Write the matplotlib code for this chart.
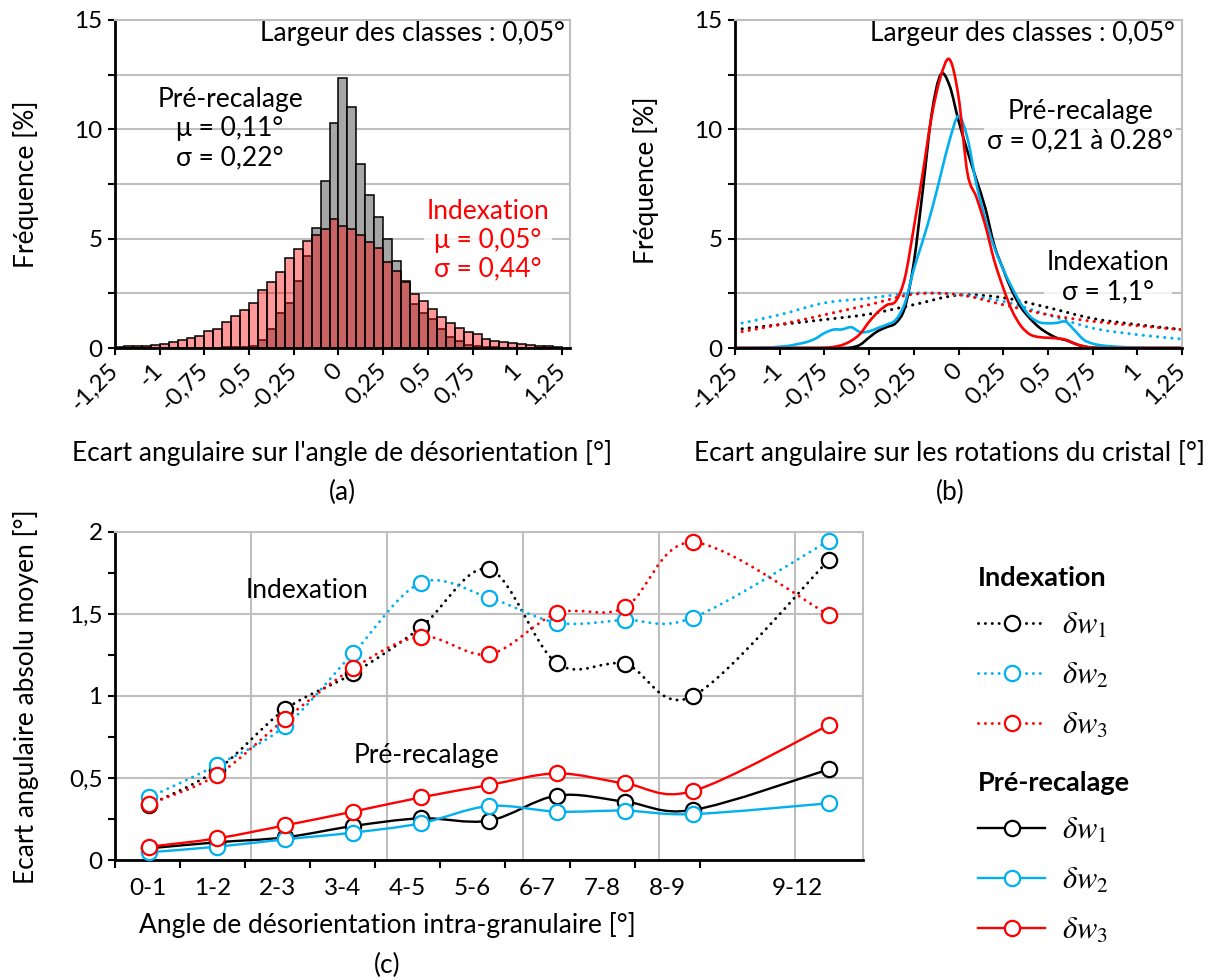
import numpy as np
import matplotlib
matplotlib.use('Agg')
import matplotlib.pyplot as plt
from matplotlib.path import Path
from matplotlib.patches import PathPatch
from matplotlib.lines import Line2D
from matplotlib.ticker import MultipleLocator

plt.rcParams['font.family'] = ['Lato', 'DejaVu Sans']
plt.rcParams['mathtext.fontset'] = 'stix'

# ---------------- données ----------------
# (a) histogrammes, classes de 0,05° entre -1,25 et 1,25
bin_width = 0.05
bin_left = np.round(np.arange(-1.25, 1.25 - 1e-9, bin_width), 2)
hist_pre = [0, 0, 0, 0, 0, 0, 0, 0, 0, 0,
            0.01, 0.02, 0.03, 0.04, 0.05, 0.08, 0.35, 0.87, 1.6, 2.06,
            3.05, 4.19, 5.51, 7.64, 10.28, 12.33, 11.01, 8.42, 7.0, 5.97,
            4.98, 4.0, 3.05, 2.03, 1.6, 1.32, 0.88, 0.49, 0.3, 0.15,
            0.08, 0.05, 0.03, 0.02, 0.01, 0.01, 0, 0, 0, 0]
hist_index = [0.05, 0.08, 0.09, 0.10, 0.15, 0.20, 0.26, 0.38, 0.46, 0.53,
              0.76, 0.87, 1.17, 1.45, 1.72, 2.06, 2.63, 3.00, 3.46, 4.11,
              4.52, 4.90, 5.18, 5.44, 5.89, 5.59, 5.44, 5.18, 4.83, 4.57,
              3.93, 3.50, 3.00, 2.48, 2.13, 1.78, 1.42, 1.14, 0.91, 0.73,
              0.62, 0.43, 0.34, 0.27, 0.23, 0.20, 0.15, 0.10, 0.08, 0.05]

# (b) fréquences sur les rotations du cristal
rot_x = np.round(np.arange(-1.25, 1.25 + 1e-9, 0.05), 2)
pre_w1 = [0, 0, 0, 0, 0, 0, 0, 0, 0, 0,
          0, 0, 0, 0.02, 0.15, 0.48, 0.78, 0.96, 1.15, 1.85,
          3.9, 7.2, 10.7, 12.5, 12.0, 10.4, 9.0, 7.7, 6.4, 4.7,
          3.6, 2.6, 1.85, 1.35, 0.95, 0.67, 0.46, 0.36, 0.2, 0.07,
          0.02, 0, 0, 0, 0, 0, 0, 0, 0, 0, 0]
pre_w2 = [0, 0, 0.01, 0.02, 0.03, 0.06, 0.1, 0.18, 0.27, 0.43,
          0.68, 0.84, 0.85, 0.95, 0.73, 0.76, 0.92, 1.07, 1.3, 2.05,
          3.6, 4.9, 6.3, 7.9, 9.5, 10.6, 9.6, 7.5, 5.9, 4.6,
          3.6, 2.75, 2.0, 1.45, 1.18, 1.13, 1.15, 1.2, 0.8, 0.38,
          0.2, 0.12, 0.08, 0.05, 0.03, 0.02, 0, 0, 0, 0, 0]
pre_w3 = [0, 0, 0, 0, 0, 0, 0, 0, 0, 0,
          0.01, 0.05, 0.14, 0.33, 0.65, 1.2, 1.65, 1.97, 2.15, 3.2,
          5.5, 8.0, 10.6, 12.4, 13.2, 11.5, 8.0, 6.9, 5.6, 4.0,
          2.75, 1.7, 1.0, 0.62, 0.5, 0.47, 0.44, 0.38, 0.2, 0.08,
          0.02, 0, 0, 0, 0, 0, 0, 0, 0, 0, 0]
idx_x = np.round(np.arange(-1.25, 1.25 + 1e-9, 0.25), 2)
idx_w1 = [0.84, 1.07, 1.3, 1.55, 1.98, 2.42, 2.3, 1.85, 1.35, 1.07, 0.84]
idx_w2 = [1.07, 1.52, 2.06, 2.28, 2.51, 2.44, 2.13, 1.52, 0.91, 0.61, 0.41]
idx_w3 = [0.69, 1.07, 1.52, 1.98, 2.46, 2.44, 1.98, 1.52, 1.22, 1.02, 0.84]

angle_labels = ['-1,25', '-1', '-0,75', '-0,5', '-0,25', '0',
                '0,25', '0,5', '0,75', '1', '1,25']

# (c) écart angulaire absolu moyen par classe de désorientation
classes = ['0-1', '1-2', '2-3', '3-4', '4-5', '5-6', '6-7', '7-8', '8-9', '9-12']
classes_mid = [0.5, 1.5, 2.5, 3.5, 4.5, 5.5, 6.5, 7.5, 8.5, 10.5]
c_idx_w1 = [0.335, 0.55, 0.918, 1.138, 1.419, 1.773, 1.199, 1.195, 1.0, 1.83]
c_idx_w2 = [0.382, 0.579, 0.817, 1.26, 1.69, 1.6, 1.447, 1.463, 1.478, 1.947]
c_idx_w3 = [0.341, 0.518, 0.858, 1.168, 1.362, 1.254, 1.504, 1.54, 1.937, 1.494]
c_pre_w1 = [0.071, 0.108, 0.138, 0.207, 0.254, 0.24, 0.393, 0.356, 0.305, 0.553]
c_pre_w2 = [0.047, 0.081, 0.126, 0.167, 0.224, 0.329, 0.295, 0.301, 0.28, 0.346]
c_pre_w3 = [0.081, 0.132, 0.211, 0.295, 0.382, 0.457, 0.528, 0.467, 0.421, 0.823]
c_yticks = [0, 0.5, 1, 1.5, 2]
c_yticklabels = ['0', '0,5', '1', '1,5', '2']

BLACK = '#000000'
BLUE = '#00B0F0'
RED = '#FF0000'
GRID = '#BFBFBF'
FS = 17.5      # graduations
FT = 19        # titres / annotations
DOTS = (0, (0.05, 2.3))
MS = 11


def smooth_path(x, y):
    # courbe lissée type Excel (Catmull-Rom -> Bezier)
    x = np.asarray(x, float)
    y = np.asarray(y, float)
    n = len(x)
    verts = [(x[0], y[0])]
    codes = [Path.MOVETO]
    for i in range(n - 1):
        i0 = max(i - 1, 0)
        i3 = min(i + 2, n - 1)
        c1 = (x[i] + (x[i + 1] - x[i0]) / 6, y[i] + (y[i + 1] - y[i0]) / 6)
        c2 = (x[i + 1] - (x[i3] - x[i]) / 6, y[i + 1] - (y[i3] - y[i]) / 6)
        verts += [c1, c2, (x[i + 1], y[i + 1])]
        codes += [Path.CURVE4] * 3
    return Path(verts, codes)


def add_curve(ax, x, y, color, lw, ls, zorder=2):
    patch = PathPatch(smooth_path(x, y), fill=False, edgecolor=color, lw=lw,
                      linestyle=ls, capstyle='round', joinstyle='round', zorder=zorder)
    ax.add_patch(patch)


def style_axes(ax):
    for s in ['left', 'bottom']:
        ax.spines[s].set_color('black')
        ax.spines[s].set_linewidth(2)
    for s in ['top', 'right']:
        ax.spines[s].set_color(GRID)
        ax.spines[s].set_linewidth(1.5)
    ax.set_axisbelow(True)
    ax.tick_params(which='both', direction='out', length=5, width=1.5,
                   labelsize=FS, pad=4, top=False, right=False)


def style_freq_axes(ax):
    style_axes(ax)
    ax.set_ylim(0, 15)
    ax.yaxis.set_major_locator(MultipleLocator(5))
    ax.yaxis.set_minor_locator(MultipleLocator(2.5))
    ax.grid(axis='y', which='both', color=GRID, lw=1.5)
    ax.set_xticks(idx_x)
    ax.set_xticklabels(angle_labels, rotation=45, ha='right', va='center',
                       rotation_mode='anchor')
    ax.tick_params(axis='x', pad=9)
    ax.set_ylabel('Fréquence [%]', fontsize=FT)


fig = plt.figure(figsize=(12.27, 9.8), dpi=100)

# ---------------- (a) ----------------
ax_a = fig.add_axes([115 / 1227, 1 - 348 / 980, 455 / 1227, 328 / 980])
ax_a.bar(bin_left, hist_pre, width=bin_width, align='edge', color='#A6A6A6',
         edgecolor='black', lw=1.1, zorder=2)
ax_a.bar(bin_left, hist_index, width=bin_width, align='edge', facecolor=(1, 0, 0, 0.4),
         edgecolor='black', lw=1.1, zorder=3)
ax_a.set_xlim(-1.25, 1.295)
style_freq_axes(ax_a)
ax_a.yaxis.set_label_coords(-0.168, 0.5)
ax_a.set_xlabel("Ecart angulaire sur l'angle de désorientation [°]", fontsize=FT)
ax_a.xaxis.set_label_coords(0.5, -0.28)
ax_a.text(0.989, 0.96, 'Largeur des classes : 0,05°', transform=ax_a.transAxes,
          ha='right', va='center', fontsize=FT)
ax_a.text(0.253, 0.668, 'Pré-recalage\nμ = 0,11°\nσ = 0,22°', transform=ax_a.transAxes,
          ha='center', va='center', fontsize=FT, linespacing=1.2, zorder=1.5)
ax_a.text(0.82, 0.329, 'Indexation\nμ = 0,05°\nσ = 0,44°', transform=ax_a.transAxes,
          ha='center', va='center', fontsize=FT, color=RED, linespacing=1.2,
          zorder=1.5, bbox=dict(facecolor='white', edgecolor='none', alpha=0.8, pad=2))
fig.text(342 / 1227, 1 - 492 / 980, '(a)', ha='center', va='center', fontsize=FT)

# ---------------- (b) ----------------
ax_b = fig.add_axes([735 / 1227, 1 - 348 / 980, 447 / 1227, 328 / 980])
ax_b.set_xlim(-1.25, 1.25)
style_freq_axes(ax_b)
ax_b.yaxis.set_label_coords(-0.17, 0.51)
for yv, col in [(idx_w1, BLACK), (idx_w2, BLUE), (idx_w3, RED)]:
    add_curve(ax_b, idx_x, yv, col, 2.2, DOTS)
for yv, col in [(pre_w1, BLACK), (pre_w2, BLUE), (pre_w3, RED)]:
    add_curve(ax_b, rot_x, yv, col, 1.9, '-')
ax_b.set_xlabel('Ecart angulaire sur les rotations du cristal [°]', fontsize=FT)
ax_b.xaxis.set_label_coords(0.48, -0.28)
ax_b.text(0.984, 0.96, 'Largeur des classes : 0,05°', transform=ax_b.transAxes,
          ha='right', va='center', fontsize=FT)
ax_b.text(0.772, 0.677, 'Pré-recalage\nσ = 0,21 à 0.28°', transform=ax_b.transAxes,
          ha='center', va='center', fontsize=FT, linespacing=1.2, zorder=1.5,
          bbox=dict(facecolor='white', edgecolor='none', alpha=0.8, pad=2))
ax_b.text(0.834, 0.216, 'Indexation\nσ = 1,1°', transform=ax_b.transAxes,
          ha='center', va='center', fontsize=FT, linespacing=1.2, zorder=1.5,
          bbox=dict(facecolor='white', edgecolor='none', alpha=0.8, pad=2))
fig.text(950 / 1227, 1 - 492 / 980, '(b)', ha='center', va='center', fontsize=FT)

# ---------------- (c) ----------------
ax_c = fig.add_axes([115 / 1227, 1 - 860 / 980, 748 / 1227, 328 / 980])
style_axes(ax_c)
ax_c.set_xlim(0, 11)
ax_c.set_ylim(0, 2)
ax_c.set_yticks(c_yticks, c_yticklabels)
ax_c.yaxis.set_minor_locator(MultipleLocator(0.25))
ax_c.grid(axis='y', which='major', color=GRID, lw=1.5)
ax_c.vlines(np.arange(2, 11, 2), 0, 1, transform=ax_c.get_xaxis_transform(),
            color=GRID, lw=1.5, zorder=0.5)
cat_step = 65 / 68
ax_c.set_xticks(np.arange(10) * cat_step)
ax_c.set_xticklabels([])
ax_c.tick_params(axis='x', length=6)
label_pos = [(i + 0.5) * cat_step for i in range(9)] + [10.5 * cat_step]
for xp, lab in zip(label_pos, classes):
    ax_c.text(xp, -0.055, lab, transform=ax_c.get_xaxis_transform(), ha='center',
              va='top', fontsize=FS)

for yv, col in [(c_idx_w1, BLACK), (c_idx_w2, BLUE), (c_idx_w3, RED)]:
    add_curve(ax_c, classes_mid, yv, col, 2.1, DOTS)
for yv, col in [(c_pre_w1, BLACK), (c_pre_w2, BLUE), (c_pre_w3, RED)]:
    add_curve(ax_c, classes_mid, yv, col, 1.7, '-')
for yv, col in [(c_idx_w1, BLACK), (c_idx_w2, BLUE), (c_idx_w3, RED),
                (c_pre_w1, BLACK), (c_pre_w2, BLUE), (c_pre_w3, RED)]:
    ax_c.plot(classes_mid, yv, ls='none', marker='o', ms=MS, mfc='white', mec=col,
              mew=1.6, zorder=4, clip_on=False)

ax_c.text(0.257, 0.823, 'Indexation', transform=ax_c.transAxes, ha='center',
          va='center', fontsize=FT)
ax_c.text(0.417, 0.32, 'Pré-recalage', transform=ax_c.transAxes, ha='center',
          va='center', fontsize=FT)
ax_c.set_ylabel('Ecart angulaire absolu moyen [°]', fontsize=FT)
ax_c.yaxis.set_label_coords(-0.1016, 0.497)
ax_c.set_xlabel('Angle de désorientation intra-granulaire [°]', fontsize=FT)
ax_c.xaxis.set_label_coords(0.364, -0.16)
fig.text(387 / 1227, 1 - 965 / 980, '(c)', ha='center', va='center', fontsize=FT)

# légende
w_labels = [r'$\delta w_1$', r'$\delta w_2$', r'$\delta w_3$']


def legend_handles(ls, lw):
    return [Line2D([], [], color=c, ls=ls, lw=lw, dash_capstyle='round', marker='o',
                   ms=MS, mfc='white', mec=c, mew=1.6) for c in (BLACK, BLUE, RED)]


for handles, title, top in [(legend_handles(DOTS, 2.1), 'Indexation', 1 - 566 / 980),
                            (legend_handles('-', 1.7), 'Pré-recalage', 1 - 771 / 980)]:
    leg = fig.legend(handles=handles, labels=w_labels, title=title, loc='upper left',
                     bbox_to_anchor=(978 / 1227, top), frameon=False, fontsize=22,
                     title_fontproperties={'weight': 'bold', 'size': FT + 0.5},
                     alignment='left', handlelength=2.2, handletextpad=0.55,
                     labelspacing=0.68, borderaxespad=0, borderpad=0)

fig.savefig('out.png', dpi=100)
